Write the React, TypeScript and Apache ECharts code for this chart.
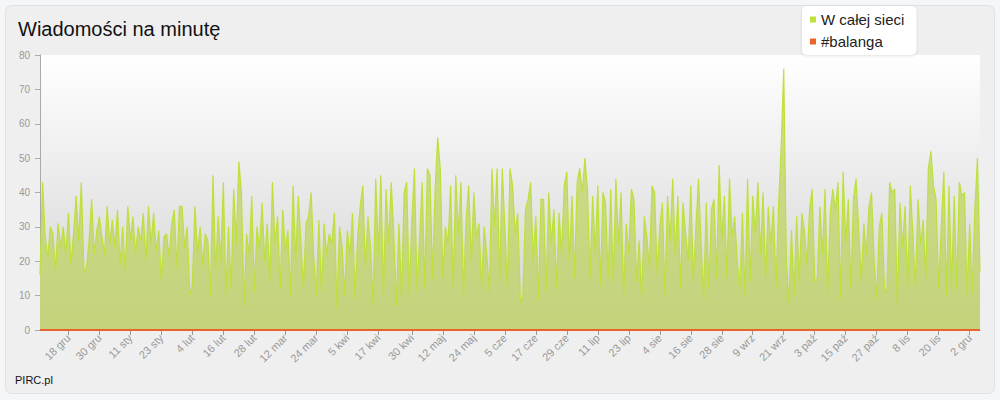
import React, { useEffect, useRef } from "react";
import * as echarts from "echarts";

// Daily values, 7 gru 2010 .. 6 gru 2011
const valuesDecFeb = [
  16, 43, 27, 21, 30, 28, 17, 31, 24, 30, 22, 34, 19, 28, 39, 26, 43, 17, 18, 26,
  38, 22, 29, 33, 27, 22, 36, 25, 32, 24, 35, 19, 30, 17, 36, 26, 33, 22, 30, 26,
  34, 20, 36, 25, 34, 23, 29, 14, 27, 28, 21, 31, 35, 18, 36, 36, 24, 30, 10, 13,
  36, 22, 30, 19, 28, 26, 10, 45, 17, 33, 20, 43, 10, 30, 12, 41, 25, 49, 40, 7,
];
const valuesMarApr = [
  28, 22, 39, 11, 30, 24, 37, 20, 31, 14, 43, 25, 33, 12, 35, 23, 29, 10, 42, 20,
  39, 26, 12, 31, 33, 40, 21, 10, 32, 11, 31, 22, 28, 25, 34, 6, 30, 24, 10, 29,
  22, 34, 9, 27, 36, 42, 18, 33, 24, 7, 44, 22, 45, 10, 41, 25, 43, 28, 7, 31,
  9, 40, 43, 10, 32, 47, 11, 27, 43, 12,
];
const valuesMayJul = [
  47, 45, 15, 41, 56, 47, 15, 30, 25, 42, 12, 45, 28, 43, 10, 32, 42, 20, 40, 27,
  31, 12, 30, 22, 11, 47, 30, 47, 14, 47, 30, 12, 47, 42, 28, 34, 8, 10, 35, 38,
  43, 20, 33, 9, 38, 38, 11, 40, 25, 35, 12, 34, 22, 42, 46, 20, 39, 15, 43, 47,
  40, 50, 41, 15, 39, 22, 42, 13, 40, 37, 15, 41, 14, 44, 25, 40, 10, 31, 22, 41,
];
const valuesAugSep = [
  38, 14, 26, 9, 33, 27, 18, 42, 40, 16, 30, 37, 10, 39, 26, 44, 22, 39, 12, 37,
  28, 20, 42, 14, 30, 44, 25, 9, 37, 12, 35, 38, 15, 48, 26, 39, 15, 44, 27, 33,
  20, 12, 34, 10, 44, 14, 39, 28, 43, 22, 40, 15, 36, 25, 36, 12, 36, 53, 76, 20,
];
const valuesOctDec = [
  8, 29, 10, 33, 14, 34, 29, 19, 35, 41, 14, 15, 36, 22, 41, 10, 34, 41, 35, 43,
  9, 46, 25, 38, 12, 38, 44, 30, 14, 31, 22, 36, 40, 20, 9, 30, 34, 12, 11, 43,
  40, 41, 7, 37, 24, 36, 12, 42, 28, 12, 38, 25, 32, 15, 47, 52, 42, 38, 12, 30,
  46, 10, 42, 12, 39, 12, 43, 39, 40, 10, 31, 11, 35, 50, 17,
];
const wCalejSieci = [
  ...valuesDecFeb,
  ...valuesMarApr,
  ...valuesMayJul,
  ...valuesAugSep,
  ...valuesOctDec,
];

// #balanga stays at zero over the whole period
const balanga = [
  0, 0, 0, 0, 0, 0, 0, 0, 0, 0, 0, 0, 0, 0, 0, 0, 0, 0, 0, 0,
  0, 0, 0, 0, 0, 0, 0, 0, 0, 0, 0, 0, 0, 0, 0, 0, 0, 0, 0, 0,
  0, 0, 0, 0, 0, 0, 0, 0, 0, 0, 0, 0, 0, 0, 0, 0, 0, 0, 0, 0,
  0, 0, 0, 0, 0, 0, 0, 0, 0, 0, 0, 0, 0, 0, 0, 0, 0, 0, 0, 0,
  0, 0, 0, 0, 0, 0, 0, 0, 0, 0, 0, 0, 0, 0, 0, 0, 0, 0, 0, 0,
  0, 0, 0, 0, 0, 0, 0, 0, 0, 0, 0, 0, 0, 0, 0, 0, 0, 0, 0, 0,
  0, 0, 0, 0, 0, 0, 0, 0, 0, 0, 0, 0, 0, 0, 0, 0, 0, 0, 0, 0,
  0, 0, 0, 0, 0, 0, 0, 0, 0, 0, 0, 0, 0, 0, 0, 0, 0, 0, 0, 0,
  0, 0, 0, 0, 0, 0, 0, 0, 0, 0, 0, 0, 0, 0, 0, 0, 0, 0, 0, 0,
  0, 0, 0, 0, 0, 0, 0, 0, 0, 0, 0, 0, 0, 0, 0, 0, 0, 0, 0, 0,
  0, 0, 0, 0, 0, 0, 0, 0, 0, 0, 0, 0, 0, 0, 0, 0, 0, 0, 0, 0,
  0, 0, 0, 0, 0, 0, 0, 0, 0, 0, 0, 0, 0, 0, 0, 0, 0, 0, 0, 0,
  0, 0, 0, 0, 0, 0, 0, 0, 0, 0, 0, 0, 0, 0, 0, 0, 0, 0, 0, 0,
  0, 0, 0, 0, 0, 0, 0, 0, 0, 0, 0, 0, 0, 0, 0, 0, 0, 0, 0, 0,
  0, 0, 0, 0, 0, 0, 0, 0, 0, 0, 0, 0, 0, 0, 0, 0, 0, 0, 0, 0,
  0, 0, 0, 0, 0, 0, 0, 0, 0, 0, 0, 0, 0, 0, 0, 0, 0, 0, 0, 0,
  0, 0, 0, 0, 0, 0, 0, 0, 0, 0, 0, 0, 0, 0, 0, 0, 0, 0, 0, 0,
  0, 0, 0, 0, 0, 0, 0, 0, 0, 0, 0, 0, 0, 0, 0, 0, 0, 0, 0, 0,
  0, 0, 0, 0, 0,
];

const monthNames = ["sty", "lut", "mar", "kwi", "maj", "cze", "lip", "sie", "wrz", "paź", "lis", "gru"];
const startDate = Date.UTC(2010, 11, 7);
const categories = wCalejSieci.map((_, i) => {
  const d = new Date(startDate + i * 86400000);
  return `${d.getUTCDate()} ${monthNames[d.getUTCMonth()]}`;
});

const tickLabels = [
  "18 gru", "30 gru", "11 sty", "23 sty", "4 lut", "16 lut", "28 lut", "12 mar", "24 mar", "5 kwi",
  "17 kwi", "30 kwi", "12 maj", "24 maj", "5 cze", "17 cze", "29 cze", "11 lip", "23 lip", "4 sie",
  "16 sie", "28 sie", "9 wrz", "21 wrz", "3 paź", "15 paź", "27 paź", "8 lis", "20 lis", "2 gru",
];
const tickSet = new Set(tickLabels);

const FONT = "'Liberation Sans', Arial, sans-serif";
const GRID = { left: 40, top: 55, right: 20, bottom: 70 };

export default function App() {
  const ref = useRef<HTMLDivElement>(null);
  useEffect(() => {
    if (!ref.current) return;
    const chart = echarts.init(ref.current, undefined, { renderer: "svg" });
    chart.setOption({
      animation: false,
      backgroundColor: "#f5f6f8",
      textStyle: { fontFamily: FONT },
      title: {
        text: "Wiadomości na minutę",
        left: 13,
        top: 14,
        textStyle: { fontSize: 20, fontWeight: "normal", color: "#111", fontFamily: FONT },
      },
      legend: {
        orient: "vertical",
        left: 802,
        top: 6,
        padding: [6, 12, 6, 8],
        backgroundColor: "#ffffff",
        borderRadius: 5,
        shadowBlur: 3,
        shadowColor: "rgba(0,0,0,0.12)",
        shadowOffsetY: 1,
        itemWidth: 6,
        itemHeight: 6,
        itemGap: 7,
        icon: "rect",
        textStyle: { fontSize: 15, color: "#222", lineHeight: 14, fontFamily: FONT },
        data: ["W całej sieci", "#balanga"],
      },
      graphic: [
        {
          type: "rect",
          z: -10,
          shape: { x: 5.5, y: 5.5, width: 989, height: 388, r: 6 },
          style: { fill: "#efefef", stroke: "#e0e1e3", lineWidth: 1 },
          silent: true,
        },
        {
          type: "rect",
          z: -5,
          shape: { x: GRID.left, y: GRID.top, width: 1000 - GRID.left - GRID.right, height: 400 - GRID.top - GRID.bottom },
          style: {
            fill: new echarts.graphic.LinearGradient(0, 0, 0, 1, [
              { offset: 0, color: "#ffffff" },
              { offset: 1, color: "#d2d2d2" },
            ]),
          },
          silent: true,
        },
        {
          type: "text",
          left: 15,
          top: 374,
          style: { text: "PIRC.pl", fontSize: 11, fill: "#111", fontFamily: FONT },
        },
      ],
      grid: GRID,
      xAxis: {
        type: "category",
        data: categories,
        boundaryGap: false,
        axisLine: { show: true, lineStyle: { color: "#999" } },
        axisTick: {
          show: true,
          interval: (_i: number, v: string) => tickSet.has(v),
          length: 5,
          lineStyle: { color: "#999" },
        },
        axisLabel: {
          interval: (_i: number, v: string) => tickSet.has(v),
          rotate: 45,
          color: "#999",
          fontSize: 11,
          margin: 6,
          fontFamily: FONT,
        },
        splitLine: { show: false },
      },
      yAxis: {
        type: "value",
        min: 0,
        max: 80,
        interval: 10,
        axisLine: { show: true, lineStyle: { color: "#aaa" } },
        axisTick: { show: true, length: 5, lineStyle: { color: "#aaa" } },
        axisLabel: { color: "#999", fontSize: 10, margin: 10, fontFamily: FONT },
        splitLine: { show: false },
      },
      series: [
        {
          name: "W całej sieci",
          type: "line",
          data: wCalejSieci,
          symbol: "none",
          itemStyle: { color: "#bde03a" },
          lineStyle: { color: "#bde03a", width: 1.2 },
          areaStyle: {
            opacity: 1,
            color: new echarts.graphic.LinearGradient(0, 0, 0, 1, [
              { offset: 0, color: "#cde08c" },
              { offset: 1, color: "#c4d27c" },
            ]),
          },
          z: 2,
        },
        {
          name: "#balanga",
          type: "line",
          data: balanga,
          symbol: "none",
          itemStyle: { color: "#e8642c" },
          lineStyle: { color: "#e8642c", width: 2 },
          z: 3,
        },
      ],
    });
    return () => chart.dispose();
  }, []);
  return (
    <div
      ref={ref}
      style={{ position: "fixed", left: 0, top: 0, width: 1000, height: 400 }}
    />
  );
}
